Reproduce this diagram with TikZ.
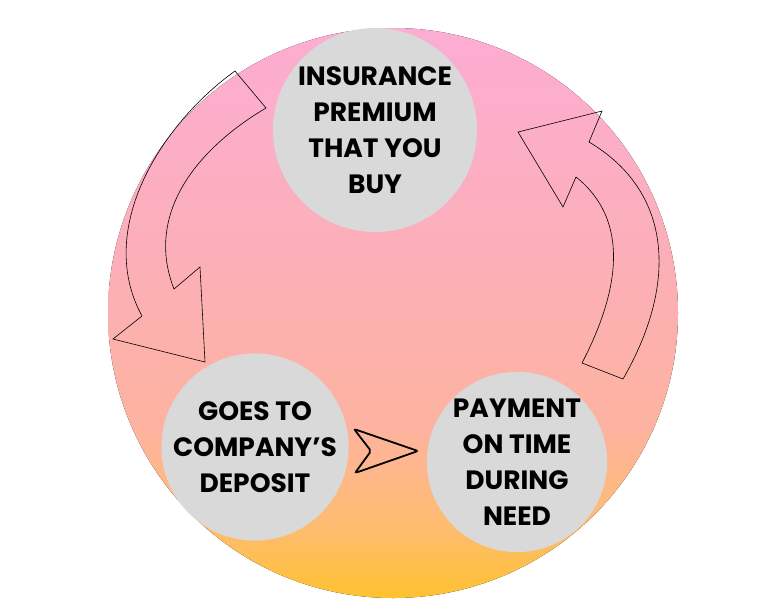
\documentclass[tikz,border=0pt]{standalone}
\usepackage{fontspec}
\setmainfont{Poppins}[UprightFont=* Bold,Ligatures=ResetAll]
\definecolor{bubgray}{HTML}{D9D9D9}
\definecolor{ctop}{HTML}{FCADD3}
\definecolor{cmid2}{HTML}{FCAFB8}
\definecolor{cmid}{HTML}{FDB3A0}
\definecolor{cora}{HTML}{FEBC6E}
\definecolor{cbot}{HTML}{FFC22F}
\pgfdeclareverticalshading{bgshade}{100bp}{
  color(0bp)=(cbot); color(25bp)=(cbot); color(31bp)=(cora); color(40bp)=(cmid); color(55bp)=(cmid2); color(75bp)=(ctop); color(100bp)=(ctop)}
\begin{document}
\begin{tikzpicture}[x=1pt,y=-1pt,
  bub/.style={circle,fill=bubgray,align=center,inner sep=0pt,font=\fontsize{26.5}{36}\selectfont},
  arr/.style={draw=black,line width=0.6pt,line join=miter}]
\useasboundingbox (0,0) rectangle (772,600);
\fill[shading=bgshade] (393,313) circle (285);
\node[bub,minimum size=204pt] (top) at (375,130) {INSURANCE\\PREMIUM\\THAT YOU\\BUY};
\node[bub,minimum size=180pt] (bl) at (255,447) {GOES TO\\COMPANY'S\\DEPOSIT};
\node[bub,minimum size=180pt] (br) at (517,462) {PAYMENT\\ON TIME\\DURING\\NEED};
\draw[arr] (235,71) .. controls (160,125) and (95,230) .. (142,316) -- (113,339) -- (205,362) -- (200,267) -- (174,289) .. controls (145,215) and (195,150) .. (266,108) -- cycle;
\draw[arr] (582,363) .. controls (620,290) and (630,220) .. (576,177) -- (563,207) -- (518,132) -- (602,111) -- (589,142) .. controls (670,190) and (680,280) .. (623,379) -- cycle;
\draw[line width=1.8pt,rounded corners=2pt] (354,429) -- (418,451) -- (355,473) -- (371,451) -- cycle;
\end{tikzpicture}
\end{document}
